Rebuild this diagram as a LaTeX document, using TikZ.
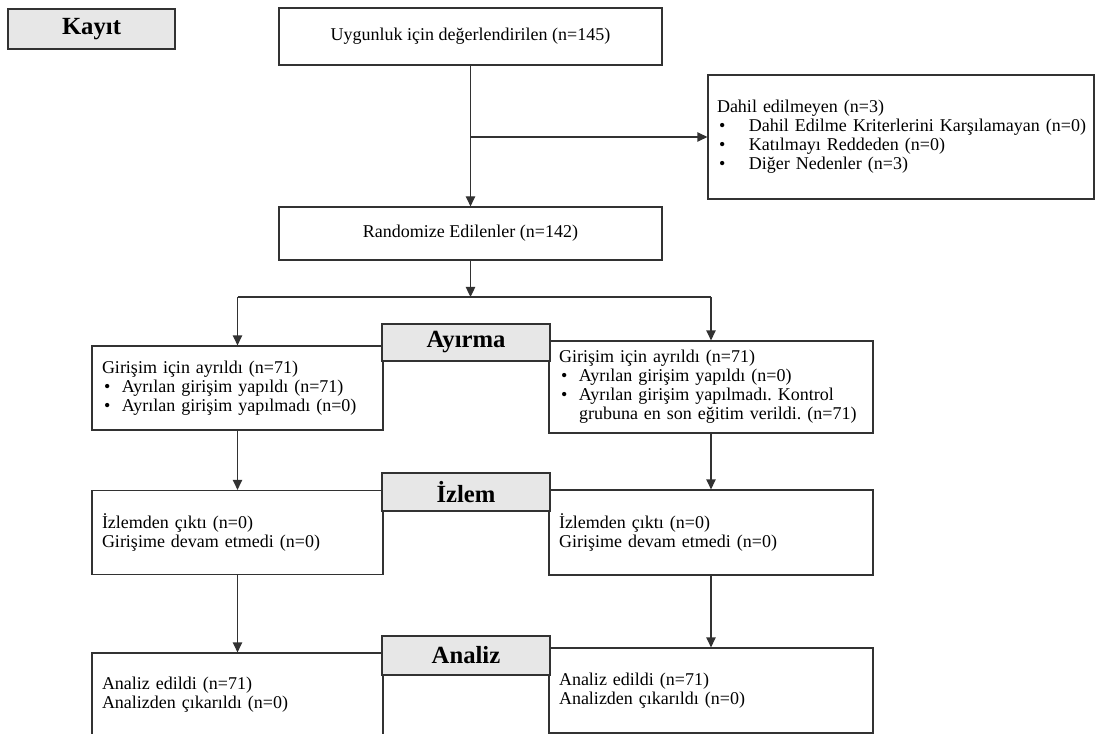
\documentclass[tikz,border=0pt]{standalone}
\usepackage{fontspec}
\setmainfont{Liberation Serif}
\usetikzlibrary{arrows.meta, positioning}
\definecolor{phasegray}{RGB}{231,231,231}
\definecolor{linegray}{RGB}{50,50,50}
\newdimen\pxu \pxu=0.75pt
\newcommand{\blt}{\makebox[20\pxu][l]{\hspace{2\pxu}•}}
\newcommand{\bltw}{\makebox[32\pxu][l]{\hspace{2\pxu}•}}
\frenchspacing

\begin{document}
\begin{tikzpicture}[x=\pxu, y=-\pxu, font=\fontsize{13.5}{14.3}\selectfont,
  box/.style={draw=linegray, line width=0.9pt, inner sep=0pt},
  lbox/.style={box, align=left, inner xsep=10\pxu},
  phase/.style={box, fill=phasegray, minimum width=168\pxu,
                font=\fontsize{18.5}{20}\selectfont\bfseries},
  arr/.style={draw=linegray, line width=0.9pt, -{Triangle[length=7.5pt, width=7pt]}}]
  \clip (0,0) rectangle (1099,734);

  % enrolment
  \node[phase, minimum width=167\pxu, minimum height=40\pxu] (kayit) at (91.5,29) {Kayıt};
  \node[box, minimum width=383\pxu, minimum height=57\pxu] (elig) at (470.5,36.5)
    {Uygunluk için değerlendirilen (n=145)};
  \node[lbox, inner xsep=9\pxu, text width=368\pxu, minimum width=386\pxu,
        minimum height=124\pxu] (excl) at (901,137)
    {Dahil edilmeyen (n=3)\\
     \mbox{\bltw Dahil Edilme Kriterlerini Karşılamayan (n=0)}\\
     \bltw Katılmayı Reddeden (n=0)\\
     \bltw Diğer Nedenler (n=3)};
  \node[box, minimum width=383\pxu, minimum height=53\pxu] (rand) at (470.5,233.5)
    {Randomize Edilenler (n=142)};
  \coordinate (branch) at (elig.south |- excl.west);
  \coordinate (split) at (470.5,297);
  \coordinate (splitL) at (237.5,297);
  \coordinate (splitR) at (711,297);

  % allocation
  \node[lbox, text width=271\pxu, minimum width=291\pxu, minimum height=84\pxu]
    (alloc1) at (237.5,388)
    {Girişim için ayrıldı (n=71)\\
     \blt Ayrılan girişim yapıldı (n=71)\\
     \blt Ayrılan girişim yapılmadı (n=0)};
  \node[lbox, text width=304\pxu, minimum width=324\pxu, minimum height=92\pxu]
    (alloc2) at (711,387)
    {Girişim için ayrıldı (n=71)\\
     \blt Ayrılan girişim yapıldı (n=0)\\
     \blt Ayrılan girişim yapılmadı. Kontrol\\
     \mbox{\hspace*{20\pxu}grubuna en son eğitim verildi. (n=71)}};
  \node[phase, minimum height=37\pxu] (ayirma) at (466,342.5) {Ayırma};

  % follow-up
  \node[lbox, text width=271\pxu, minimum width=291\pxu, minimum height=84\pxu]
    (follow1) at (237.5,532.5)
    {İzlemden çıktı (n=0)\\Girişime devam etmedi (n=0)};
  \node[lbox, text width=304\pxu, minimum width=324\pxu, minimum height=85\pxu]
    (follow2) at (711,532.5)
    {İzlemden çıktı (n=0)\\Girişime devam etmedi (n=0)};
  \node[phase, minimum height=38\pxu] (izlem) at (466,492) {İzlem};

  % analysis
  \node[lbox, text width=271\pxu, minimum width=291\pxu, minimum height=83\pxu]
    (anal1) at (237.5,694.5)
    {Analiz edildi (n=71)\\Analizden çıkarıldı (n=0)};
  \node[lbox, text width=304\pxu, minimum width=324\pxu, minimum height=85\pxu]
    (anal2) at (711,690.5)
    {Analiz edildi (n=71)\\Analizden çıkarıldı (n=0)};
  \node[phase, minimum height=39\pxu] (analiz) at (466,655.5) {Analiz};

  % connectors
  \draw[arr] (elig) -- (rand);
  \draw[arr] (branch) -- (excl.west);
  \draw[arr] (rand) -- (split);
  \draw[draw=linegray, line width=0.9pt] (splitL) -- (splitR);
  \draw[arr] (splitL) -- (alloc1);
  \draw[arr] (splitR) -- (alloc2);
  \draw[arr] (alloc1) -- (follow1);
  \draw[arr] (alloc2) -- (follow2);
  \draw[arr] (follow1) -- (anal1);
  \draw[arr] (follow2) -- (anal2);
\end{tikzpicture}
\end{document}
